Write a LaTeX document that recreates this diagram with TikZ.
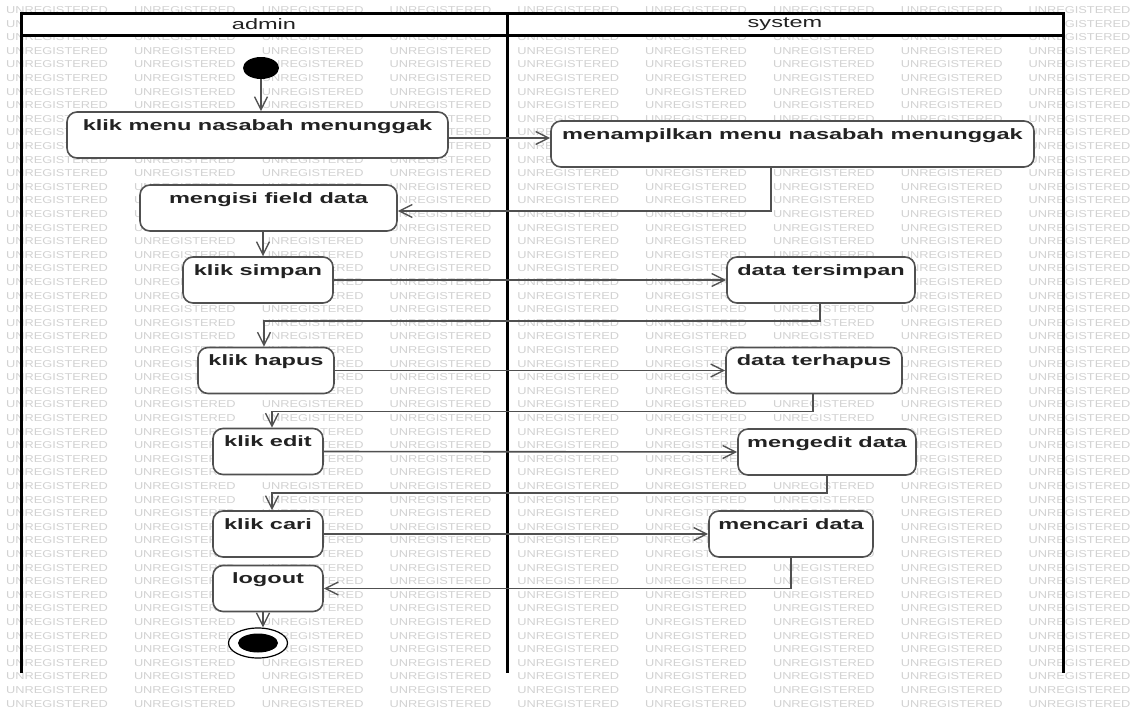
\documentclass[tikz,border=0pt]{standalone}
\usepackage{fontspec}
\usetikzlibrary{arrows.meta,shapes.geometric}
\newfontfamily\umlfont[FakeStretch=1.57]{Liberation Sans}
\newfontfamily\wmfont[FakeStretch=1.28]{Liberation Sans}
\definecolor{lineclr}{HTML}{505050}
\definecolor{txtclr}{HTML}{222222}
\definecolor{wmclr}{HTML}{D2D2D2}

\begin{document}
\begin{tikzpicture}[x=1pt,y=-1pt,
  act/.style={draw=lineclr,line width=1.6pt,fill=white,rounded corners=10pt,text=txtclr,
    font=\umlfont\bfseries\fontsize{15pt}{18pt}\selectfont,inner xsep=0pt,inner ysep=6pt,
    text height=12pt,text depth=22pt},
  hdr/.style={text=txtclr,font=\umlfont\fontsize{15pt}{18pt}\selectfont,inner sep=0pt},
  flow/.style={draw=lineclr,line width=1.6pt,-{Straight Barb[length=13pt,width=13pt,line width=1.4pt]}},
  lane/.style={line width=3pt,black,line join=miter},
  wmark/.style={text=wmclr,font=\wmfont\fontsize{10pt}{12pt}\selectfont,anchor=west,inner sep=0pt}]
\useasboundingbox (0,0) rectangle (1132,707);
\fill[white] (0,0) rectangle (1132,707);
\foreach \r in {0,...,51}{
  \foreach \c in {0,...,8}{
    \pgfmathsetmacro\wx{6+127.8*\c}
    \pgfmathsetmacro\wy{10+13.6*\r}
    \xdef\wmhide{0}
    \foreach \ax/\ay/\bx/\by in {21/13/1063/35,67/112/448/158,551/121/1034/167,140/185/397/231,
        183/257/333/303,727/257/915/303,198/347/334/394,726/347/902/394,738/429/916/475,709/511/873/557}{
      \pgfmathtruncatemacro\inside{(\wx>=\ax)*(\wx+115<=\bx)*(\wy-4>=\ay)*(\wy+4<=\by)}
      \ifnum\inside=1 \xdef\wmhide{1}\fi
    }
    \ifnum\wmhide=0 \node[wmark] at (\wx,\wy) {UNREGISTERED};\fi
  }
}
\fill[white] (21,13) rectangle (1063,35);
\draw[lane] (21,673) -- (21,13) -- (1063,13) -- (1063,673);
\draw[lane] (21,35) -- (1063,35);
\draw[lane] (507,13) -- (507,673);
\node[hdr] (admin) at (264,24) {admin};
\node[hdr] (system) at (785,24) {system};

\node[ellipse,fill=black,minimum width=36pt,minimum height=22pt,inner sep=0pt] (start) at (261,68) {};
\node[act,minimum width=381pt] (menu) at (257.5,135) {klik menu nasabah menunggak};
\node[act,minimum width=483pt] (tampil) at (792.5,144) {menampilkan menu nasabah menunggak};
\node[act,minimum width=257pt] (isi) at (268.5,208) {mengisi field data};
\node[act,minimum width=150pt] (simpan) at (258,280) {klik simpan};
\node[act,minimum width=188pt] (tersimpan) at (821,280) {data tersimpan};
\node[act,minimum width=136pt] (hapus) at (266,370.5) {klik hapus};
\node[act,minimum width=176pt] (terhapus) at (814,370.5) {data terhapus};
\node[act,minimum width=110pt] (edit) at (268,451.5) {klik edit};
\node[act,minimum width=178pt] (mengedit) at (827,452) {mengedit data};
\node[act,minimum width=110pt] (cari) at (268,534) {klik cari};
\node[act,minimum width=164pt] (mencari) at (791,534) {mencari data};
\node[act,minimum width=110pt] (logout) at (268,588.5) {logout};
\node[ellipse,draw=black,line width=1.2pt,fill=white,minimum width=59pt,minimum height=30pt,inner sep=0pt] (end) at (258,643) {};
\fill (end.center) ellipse (20pt and 9.5pt);

\draw[flow] (start.south) -- (start.south |- menu.north);
\draw[flow] ([yshift=-3pt]menu.east) -- ([yshift=-3pt]menu.east -| tampil.west);
\draw[flow] ([xshift=-21.5pt]tampil.south) |- ([yshift=-3pt]isi.east);
\draw[flow] ([xshift=-5.5pt]isi.south) -- ([xshift=-5.5pt]isi.south |- simpan.north);
\draw[flow] (simpan.east) -- (tersimpan.west);
\draw[flow] ([xshift=-1pt]tersimpan.south) -- ++(0,17) -| ([xshift=-2pt]hapus.north);
\draw[flow] (hapus.east) -- (terhapus.west);
\draw[flow] ([xshift=-1pt]terhapus.south) -- ++(0,17) -| ([xshift=4pt]edit.north);
\draw[flow] (edit.east) -- (mengedit.west);
\draw[flow] (mengedit.south) -- ++(0,17) -| ([xshift=4pt]cari.north);
\draw[flow] (cari.east) -- (mencari.west);
\draw[flow] (mencari.south) |- (logout.east);
\draw[flow] ([xshift=-5pt]logout.south) -- ([xshift=-5pt]logout.south |- end.north);
\end{tikzpicture}
\end{document}
